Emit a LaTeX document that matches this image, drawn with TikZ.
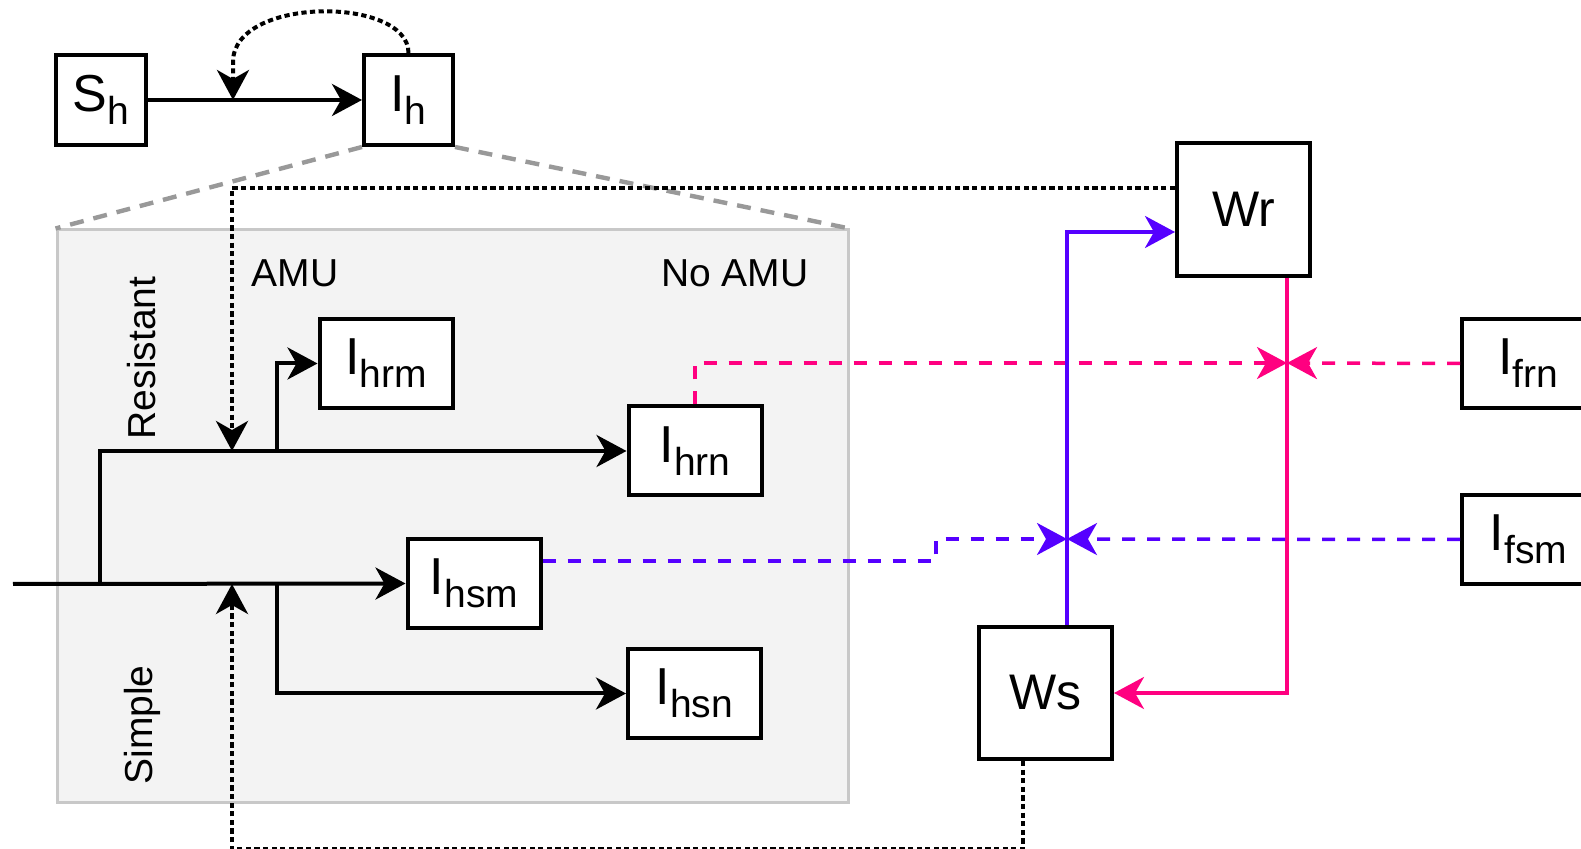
\documentclass[tikz,border=0pt]{standalone}
\usepackage{fontspec}
\setmainfont{Liberation Sans}
\usetikzlibrary{arrows.meta,calc}
\definecolor{pinkc}{RGB}{255,0,128}
\definecolor{bluec}{RGB}{85,0,255}
\definecolor{greyfill}{RGB}{243,243,243}
\definecolor{greyline}{RGB}{200,200,200}
\definecolor{greydash}{RGB}{153,153,153}
\newcommand{\comp}[2]{{\fontsize{26}{30}\selectfont #1}\raisebox{-6.5pt}{\fontsize{19.5}{24}\selectfont #2}}
\begin{document}
\begin{tikzpicture}[x=0.5pt,y=-0.5pt,
  box/.style={draw=black, line width=2pt, fill=white, minimum width=66.5pt, minimum height=44.5pt, inner sep=0pt},
  sq/.style={box, minimum width=66.5pt, minimum height=66.5pt, font=\fontsize{25}{30}\selectfont},
  tipk/.style={-{Stealth[length=15pt,width=16pt,inset=4.5pt]}},
  flow/.style={line width=2pt, tipk},
  dotline/.style={line width=2pt, dash pattern=on 2.6pt off 1.7pt},
  pinkdash/.style={pinkc, line width=1.75pt, dash pattern=on 6.5pt off 6pt, tipk},
  bluedash/.style={bluec, line width=1.75pt, dash pattern=on 6.5pt off 6pt, tipk},
  greydashed/.style={greydash, line width=2.2pt, dash pattern=on 7pt off 5pt},
  lbl/.style={font=\fontsize{19.5}{23}\selectfont, inner sep=0pt}
]
\useasboundingbox (0,0) rectangle (1581,849);

% group container
\node[fill=greyfill, draw=greyline, line width=1.5pt, minimum width=395.5pt, minimum height=286.5pt, inner sep=0pt] (grp) at (452.5,516.5) {};

% top nodes
\node[box, minimum width=45pt, minimum height=45pt] (Sh) at (101,100) {\comp{S}{h}};
\node[box, minimum width=44.5pt, minimum height=45pt] (Ih) at (408.5,100) {\comp{I}{h}};

% zoom lines
\draw[greydashed] (Ih.south west) -- (grp.north west);
\draw[greydashed] (Ih.south east) -- (grp.north east);

% reservoirs
\node[sq] (Wr) at (1243.5,209.5) {Wr};
\node[sq, minimum height=66pt] (Ws) at (1045.5,693) {Ws};

% compartments
\node[box] (Ihrm) at (386,363.5) {\comp{I}{hrm}};
\node[box] (Ihrn) at (695,451) {\comp{I}{hrn}};
\node[box] (Ihsm) at (474,583.5) {\comp{I}{hsm}};
\node[box] (Ihsn) at (694.5,693.5) {\comp{I}{hsn}};
\node[box] (Ifrn) at (1528.5,363.5) {\comp{I}{frn}};
\node[box] (Ifsm) at (1528.5,539.5) {\comp{I}{fsm}};

% labels
\node[lbl] (amu) at (295,273) {AMU};
\node[lbl] (noamu) at (735,273) {No AMU};
\node[lbl, rotate=90] (res) at (142,358) {Resistant};
\node[lbl, rotate=90] (sim) at (142,725) {Simple};

% coordinates
\coordinate (in) at (13,584);
\coordinate (b1) at (100,584);
\coordinate (b2) at (277,451);
\coordinate (b3) at (277,584);
\coordinate (jr) at (232,451);
\coordinate (js) at (232,584);
\coordinate (jt) at (233,100);
\coordinate (jc) at (233,62);
\coordinate (pj) at (1287,363);
\coordinate (bj) at (1067,539);
\coordinate (bs) at (936,561);

% black flows
\draw[flow] (Sh) -- (Ih);
\draw[flow] (in) -- (Ihsm.west);
\draw[flow] (b1) |- (Ihrn.west);
\draw[flow] (b2) |- (Ihrm.west);
\draw[flow] (b3) |- (Ihsn.west);

% dotted feedbacks
\draw[dotline, tipk] (Ih.north) .. controls (408.5,-4) and (233,-4) .. (jc) -- (jt);
\draw[dotline, tipk] ([yshift=10.75pt]Wr.west) -| (jr);
\draw[dotline, tipk] ([xshift=-11.25pt]Ws.south) -- ++(0,88) -| (js);

% pink
\draw[pinkc, line width=1.75pt, tipk] ([xshift=21.75pt]Wr.south) |- (Ws.east);
\draw[pinkdash] (Ihrn.north) |- (pj);
\draw[pinkdash] (Ifrn.west) -- (pj);

% blue
\draw[bluec, line width=1.75pt, tipk] ([xshift=10.75pt]Ws.north) |- ([yshift=-11.25pt]Wr.west);
\draw[bluedash] ([yshift=11.25pt]Ihsm.east) -- (bs) -- (bs |- bj) -- (bj);
\draw[bluedash] (Ifsm.west) -- (bj);
\end{tikzpicture}
\end{document}
